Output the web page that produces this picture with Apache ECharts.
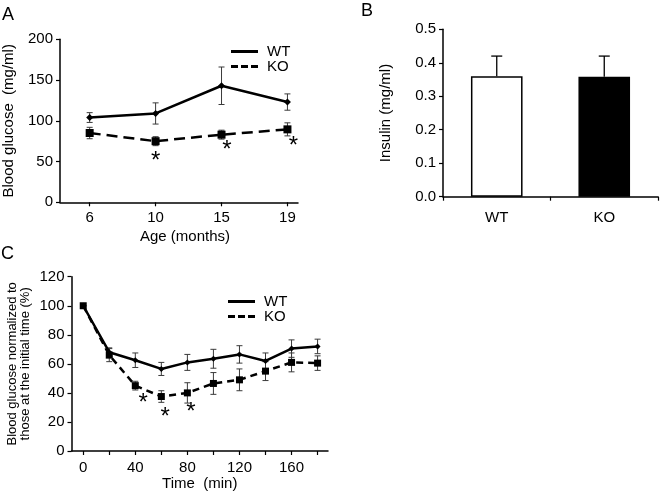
<!DOCTYPE html>
<html>
<head>
<meta charset="utf-8">
<script src="https://cdn.jsdelivr.net/npm/echarts@6/dist/echarts.min.js"></script>
<style>html,body{margin:0;padding:0;background:#fff}#c{width:660px;height:494px}</style>
</head>
<body>
<div id="c"></div>
<script>
// ---- Panel A: blood glucose by age ----
const ageLabels = ['6', '10', '15', '19'];
const wtA = [104, 109, 143, 123];
const wtAErr = [6, 13, 23, 10];
const koA = [85, 75, 83, 89.5];
const koAErr = [7, 5.5, 5.5, 8];
const sigA = [[1, 57], [2.08, 70], [3.09, 75]];

// ---- Panel B: insulin ----
const insulinCats = ['WT', 'KO'];
const insulinVals = [0.36, 0.358];
const insulinErr = [0.06, 0.062];

// ---- Panel C: glucose tolerance over time ----
const times = [0, 20, 40, 60, 80, 100, 120, 140, 160, 180];
const timeLabels = [0, 40, 80, 120, 160];
const wtC = [100, 68, 62.5, 56.5, 61, 63.5, 66.5, 62, 70.5, 72];
const wtCErr = [0, 3, 5, 4.5, 5.5, 6.5, 6, 5.5, 6, 5];
const koC = [100, 66, 45, 37.5, 40, 46.5, 49, 55, 61, 60.5];
const koCErr = [0, 4.5, 3, 4, 7, 7.5, 7.5, 6.5, 6.5, 5];
const sigC = [[46, 36.5], [63, 27], [82.7, 30.5]];

const FONT = 'Liberation Sans';
const FS = 15;
const STAR_FS = 24;
const chart = echarts.init(document.getElementById('c'), null, {renderer: 'canvas'});

function errRender(params, api) {
  const x = api.value(0), lo = api.value(1), hi = api.value(2);
  const pHi = api.coord([x, hi]), pLo = api.coord([x, lo]);
  const w = 3;
  const st = {stroke: '#3a3a3a', lineWidth: 1};
  return {type: 'group', children: [
    {type: 'line', shape: {x1: pHi[0], y1: pHi[1], x2: pLo[0], y2: pLo[1]}, style: st},
    {type: 'line', shape: {x1: pHi[0] - w, y1: pHi[1], x2: pHi[0] + w, y2: pHi[1]}, style: st},
    {type: 'line', shape: {x1: pLo[0] - w, y1: pLo[1], x2: pLo[0] + w, y2: pLo[1]}, style: st}
  ]};
}
function upErrRender(params, api) {
  const x = api.value(0), lo = api.value(1), hi = api.value(2);
  const pHi = api.coord([x, hi]), pLo = api.coord([x, lo]);
  const w = 5.5;
  const st = {stroke: '#000', lineWidth: 1.3};
  return {type: 'group', children: [
    {type: 'line', shape: {x1: pHi[0], y1: pHi[1], x2: pLo[0], y2: pLo[1]}, style: st},
    {type: 'line', shape: {x1: pHi[0] - w, y1: pHi[1], x2: pHi[0] + w, y2: pHi[1]}, style: st}
  ]};
}
function starRender(params, api) {
  const p = api.coord([api.value(0), api.value(1)]);
  return {type: 'text', x: p[0], y: p[1] + 0.22 * STAR_FS,
    style: {text: '*', fill: '#000', font: STAR_FS + 'px ' + FONT, align: 'center', verticalAlign: 'middle'}};
}
const errData = (xs, ys, es) => ys.map((v, i) => [xs[i], v - es[i], v + es[i]]);

const axisLineStyle = {show: true, onZero: false, lineStyle: {color: '#000', width: 1.5}};
const tickStyle = {show: true, length: 4, inside: false, lineStyle: {color: '#000', width: 1.2}};
const labelStyle = {color: '#000', fontFamily: FONT, fontSize: FS};
const titleStyle = {fontSize: 18, fontWeight: 'normal', color: '#000', fontFamily: FONT};

const solidIcon = 'path://M0,0h27v3h-27z';
const dashIcon = 'path://M0,0h7v3h-7z M10,0h7v3h-7z M20,0h7v3h-7z';
const legendText = {color: '#000', fontSize: FS, fontFamily: FONT, padding: [0, 0, 0, 4]};

const option = {
  animation: false,
  backgroundColor: '#fff',
  textStyle: {fontFamily: FONT},
  title: [
    {text: 'A', left: 2, top: 6, padding: 0, textStyle: titleStyle},
    {text: 'B', left: 361, top: 2, padding: 0, textStyle: titleStyle},
    {text: 'C', left: 1, top: 245, padding: 0, textStyle: titleStyle}
  ],
  legend: [
    {left: 231, top: 44, orient: 'vertical', itemWidth: 27, itemHeight: 3, itemGap: 0, padding: 0,
     textStyle: legendText, data: [{name: 'WT', icon: solidIcon}, {name: 'KO', icon: dashIcon}]},
    {left: 228, top: 294, orient: 'vertical', itemWidth: 27, itemHeight: 3, itemGap: 0, padding: 0,
     textStyle: legendText, data: [{name: 'WT', icon: solidIcon}, {name: 'KO', icon: dashIcon}]}
  ],
  grid: [
    {left: 59, top: 39.3, right: 362, bottom: 291.7},
    {left: 443, top: 29.3, right: 2, bottom: 297.3},
    {left: 71.5, top: 276.7, right: 332, bottom: 43}
  ],
  xAxis: [
    {gridIndex: 0, type: 'value', min: -0.45, max: 3.16,
     axisLine: axisLineStyle, splitLine: {show: false},
     axisTick: Object.assign({customValues: [0, 1, 2, 3]}, tickStyle),
     axisLabel: Object.assign({customValues: [0, 1, 2, 3], margin: 8, formatter: v => ageLabels[Math.round(v)]}, labelStyle),
     name: 'Age (months)', nameLocation: 'middle', nameGap: 27,
     nameTextStyle: {color: '#000', fontSize: FS, fontFamily: FONT, padding: [0, 0, 0, 12]}},
    {gridIndex: 1, type: 'category', data: insulinCats, boundaryGap: true,
     axisLine: axisLineStyle,
     axisTick: Object.assign({alignWithLabel: false}, tickStyle),
     axisLabel: Object.assign({margin: 14}, labelStyle)},
    {gridIndex: 2, type: 'value', min: -9, max: 188,
     axisLine: axisLineStyle, splitLine: {show: false},
     axisTick: Object.assign({customValues: times}, tickStyle),
     axisLabel: Object.assign({customValues: timeLabels, margin: 9}, labelStyle),
     name: 'Time  (min)', nameLocation: 'middle', nameGap: 25,
     nameTextStyle: {color: '#000', fontSize: FS, fontFamily: FONT}}
  ],
  yAxis: [
    {gridIndex: 0, type: 'value', min: 0, max: 200, interval: 50,
     axisLine: axisLineStyle, splitLine: {show: false},
     axisTick: tickStyle, axisLabel: Object.assign({margin: 7}, labelStyle),
     name: 'Blood glucose  (mg/ml)', nameLocation: 'middle', nameGap: 44,
     nameTextStyle: {color: '#000', fontSize: FS, fontFamily: FONT}},
    {gridIndex: 1, type: 'value', min: 0, max: 0.5, interval: 0.1,
     axisLine: axisLineStyle, splitLine: {show: false},
     axisTick: tickStyle, axisLabel: Object.assign({margin: 7, formatter: v => v.toFixed(1)}, labelStyle),
     name: 'Insulin (mg/ml)', nameLocation: 'middle', nameGap: 50,
     nameTextStyle: {color: '#000', fontSize: FS, fontFamily: FONT}},
    {gridIndex: 2, type: 'value', min: 0, max: 120, interval: 20,
     axisLine: axisLineStyle, splitLine: {show: false},
     axisTick: tickStyle, axisLabel: Object.assign({margin: 7}, labelStyle),
     name: 'Blood glucose normalized to\nthose at the initial time (%)', nameLocation: 'middle', nameGap: 40,
     nameTextStyle: {color: '#000', fontSize: 13, fontFamily: FONT, lineHeight: 13}}
  ],
  series: [
    // Panel A
    {type: 'custom', name: 'errA_wt', xAxisIndex: 0, yAxisIndex: 0, renderItem: errRender, data: errData([0,1,2,3], wtA, wtAErr), z: 1},
    {type: 'custom', name: 'errA_ko', xAxisIndex: 0, yAxisIndex: 0, renderItem: errRender, data: errData([0,1,2,3], koA, koAErr), z: 1},
    {type: 'line', name: 'WT', xAxisIndex: 0, yAxisIndex: 0, data: wtA.map((v, i) => [i, v]),
     symbol: 'diamond', symbolSize: 7, color: '#000', lineStyle: {color: '#000', width: 2.5}, itemStyle: {color: '#000'}, z: 3},
    {type: 'line', name: 'KO', xAxisIndex: 0, yAxisIndex: 0, data: koA.map((v, i) => [i, v]),
     symbol: 'rect', symbolSize: 8, color: '#000', lineStyle: {color: '#000', width: 2.5, type: [11, 6]}, itemStyle: {color: '#000'}, z: 3},
    {type: 'custom', name: 'sigA', xAxisIndex: 0, yAxisIndex: 0, renderItem: starRender, data: sigA, z: 4},
    // Panel B
    {type: 'bar', name: 'Insulin', xAxisIndex: 1, yAxisIndex: 1, barWidth: '48%',
     data: insulinVals.map((v, i) => ({value: v, itemStyle: {color: i === 0 ? '#fff' : '#000', borderColor: '#000', borderWidth: 1.5}}))},
    {type: 'custom', name: 'errB', xAxisIndex: 1, yAxisIndex: 1, renderItem: upErrRender,
     data: insulinVals.map((v, i) => [i, v, v + insulinErr[i]]), z: 3},
    // Panel C
    {type: 'custom', name: 'errC_wt', xAxisIndex: 2, yAxisIndex: 2, renderItem: errRender, data: errData(times, wtC, wtCErr), z: 1},
    {type: 'custom', name: 'errC_ko', xAxisIndex: 2, yAxisIndex: 2, renderItem: errRender, data: errData(times, koC, koCErr), z: 1},
    {type: 'line', name: 'WT', xAxisIndex: 2, yAxisIndex: 2, data: wtC.map((v, i) => [times[i], v]),
     symbol: 'diamond', symbolSize: 6, color: '#000', lineStyle: {color: '#000', width: 2.5}, itemStyle: {color: '#000'}, z: 3},
    {type: 'line', name: 'KO', xAxisIndex: 2, yAxisIndex: 2, data: koC.map((v, i) => [times[i], v]),
     symbol: 'rect', symbolSize: 7, color: '#000', lineStyle: {color: '#000', width: 2.5, type: [7, 5]}, itemStyle: {color: '#000'}, z: 3},
    {type: 'custom', name: 'sigC', xAxisIndex: 2, yAxisIndex: 2, renderItem: starRender, data: sigC, z: 4}
  ]
};
chart.setOption(option);
</script>
</body>
</html>
